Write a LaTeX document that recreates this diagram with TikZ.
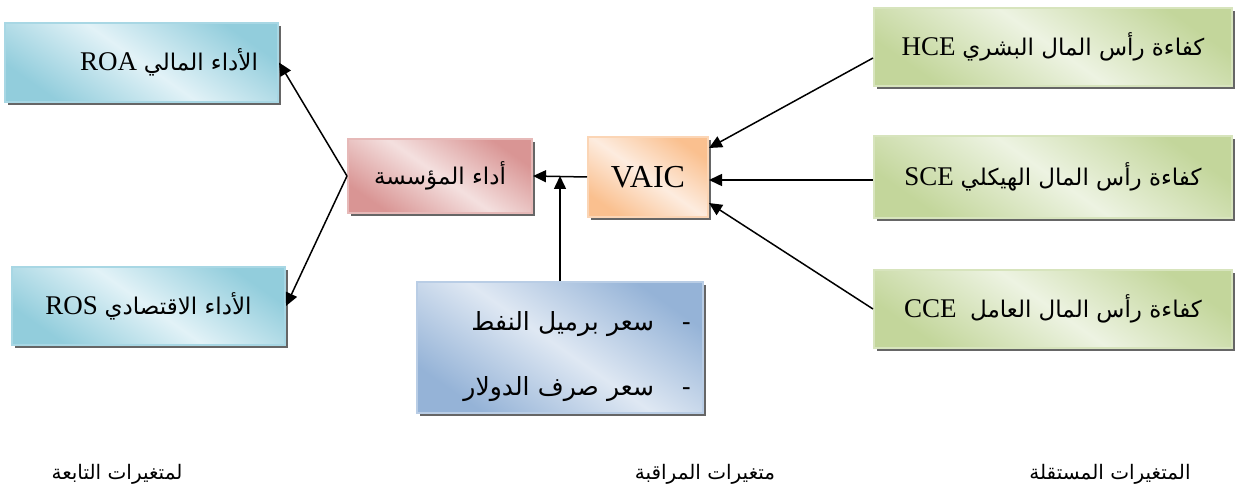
\documentclass[tikz,border=0pt]{standalone}
\usepackage{fontspec}
\setmainfont{Liberation Serif}
\newfontfamily\arabicfont[Script=Arabic]{DejaVu Sans}
\TeXXeTstate=1
\usetikzlibrary{arrows.meta,shadows}
\definecolor{blueDark}{HTML}{92CDDC}
\definecolor{blueLight}{HTML}{E2F2F7}
\definecolor{blueBorder}{HTML}{A8D7E4}
\definecolor{pinkDark}{HTML}{D99594}
\definecolor{pinkLight}{HTML}{F4E0DF}
\definecolor{pinkBorder}{HTML}{E6B9B8}
\definecolor{orDark}{HTML}{FAC08F}
\definecolor{orLight}{HTML}{FDECDF}
\definecolor{orBorder}{HTML}{FBD5B5}
\definecolor{cbDark}{HTML}{95B3D7}
\definecolor{cbLight}{HTML}{DFE8F3}
\definecolor{cbBorder}{HTML}{B9CDE5}
\definecolor{grDark}{HTML}{C3D69B}
\definecolor{grLight}{HTML}{EDF3E2}
\definecolor{grBorder}{HTML}{D7E4BD}
\newcommand\arbox{\arabicfont\fontsize{23}{27}\selectfont}
\tikzset{
  box/.style={line width=2pt, inner sep=0pt,
    drop shadow={shadow xshift=3pt, shadow yshift=-3pt, fill=black!60, opacity=1}},
  shadebox/.style n args={3}{box, draw=#3, top color=#1, bottom color=#1, middle color=#2, shading angle=-35},
  bluebox/.style={shadebox={blueDark}{blueLight}{blueBorder}},
  pinkbox/.style={shadebox={pinkDark}{pinkLight}{pinkBorder}},
  orbox/.style={shadebox={orDark}{orLight}{orBorder}},
  cbbox/.style={shadebox={cbDark}{cbLight}{cbBorder}},
  grbox/.style={shadebox={grDark}{grLight}{grBorder}},
  conn/.style={line width=1.5pt, -{Triangle[length=13pt,width=12pt]}},
  lbl/.style={inner sep=0pt, font=\arabicfont\fontsize{20}{24}\selectfont},
  boxtext/.style={font=\fontsize{27}{31}\selectfont},
}
\begin{document}
\begin{tikzpicture}[x=1pt,y=-1pt]
\useasboundingbox (0,0) rectangle (1235,500);

\node[bluebox, boxtext, minimum width=273pt, minimum height=79pt] (roa) at (141.5,62.5)
  {\hspace*{55pt}\beginR{\arbox الأداء المالي} \beginL ROA\endL\endR};
\node[bluebox, boxtext, minimum width=273pt, minimum height=78pt] (ros) at (148.5,306)
  {\beginR{\arbox الأداء الاقتصادي} \beginL ROS\endL\endR};
\node[pinkbox, minimum width=184pt, minimum height=74pt] (org) at (440,176)
  {\arbox\beginR أداء المؤسسة\endR};
\node[orbox, font=\fontsize{32}{36}\selectfont, minimum width=120pt, minimum height=80pt] (vaic) at (648,177) {VAIC};
\node[cbbox, minimum width=286pt, minimum height=131pt, text width=262pt, align=right,
  font=\arabicfont\fontsize{25}{65}\selectfont] (ctrl) at (560,347.5)
  {\rule{0pt}{38pt}\beginR -\hspace{28pt}سعر برميل النفط\endR\\ \beginR -\hspace{28pt}سعر صرف الدولار\endR};
\node[grbox, boxtext, minimum width=358pt, minimum height=78pt] (hce) at (1053,47)
  {\beginR{\arbox كفاءة رأس المال البشري} \beginL HCE\endL\endR};
\node[grbox, boxtext, minimum width=358pt, minimum height=82pt] (sce) at (1053,177)
  {\beginR{\arbox كفاءة رأس المال الهيكلي} \beginL SCE\endL\endR};
\node[grbox, boxtext, minimum width=358pt, minimum height=78pt] (cce) at (1053,309)
  {\beginR{\arbox كفاءة رأس المال العامل}\ \ \beginL CCE\endL\endR};

\draw[conn] (org.west) -- (roa.east);
\draw[conn] (org.west) -- (ros.east);
\draw[conn] (vaic.west) -- (org.east);
\draw[conn] (ctrl.north) -- (ctrl.north |- org.east);
\draw[conn] ([yshift=-11pt]hce.west) -- ([yshift=29pt]vaic.east);
\draw[conn] ([yshift=-3pt]sce.west) -- ([yshift=-3pt]vaic.east);
\draw[conn] (cce.west) -- ([yshift=-26pt]vaic.east);

\node[lbl] (dep) at (117,474) {\beginR لمتغيرات التابعة\endR};
\node[lbl] (con) at (705,474) {\beginR متغيرات المراقبة\endR};
\node[lbl] (ind) at (1110,474) {\beginR المتغيرات المستقلة\endR};
\end{tikzpicture}
\end{document}
